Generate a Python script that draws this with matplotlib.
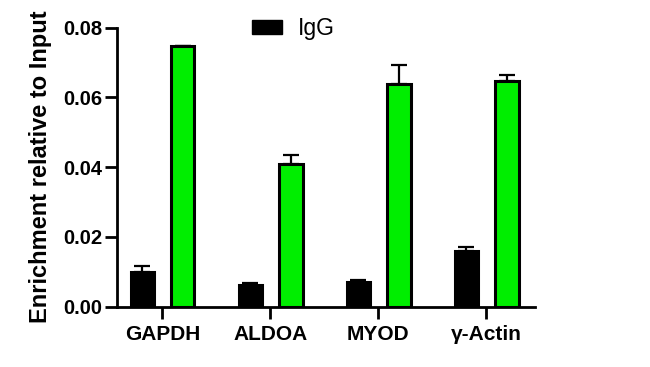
import matplotlib
matplotlib.use("Agg")
import matplotlib.pyplot as plt
import numpy as np
from matplotlib.patches import Patch

genes = ["GAPDH", "ALDOA", "MYOD", "\u03b3-Actin"]
igg = [0.0100, 0.0062, 0.0071, 0.0160]
igg_err = [0.0016, 0.0005, 0.0005, 0.0011]
target = [0.0746, 0.0409, 0.0637, 0.0646]
target_err = [0.0, 0.0026, 0.0056, 0.0019]
yticks = [0.00, 0.02, 0.04, 0.06, 0.08]

plt.rcParams["font.family"] = ["Liberation Sans", "DejaVu Sans"]

fig = plt.figure(figsize=(6.5, 3.67), dpi=100)
ax = fig.add_axes([117 / 650, 1 - 306.7 / 367, (535 - 117) / 650, (306.7 - 27.5) / 367])

x = np.arange(len(genes))
w = 0.215
ax.bar(x - 0.185, igg, w, color="black", edgecolor="black", linewidth=2.2, zorder=2)
ax.errorbar(x - 0.185, igg, yerr=[np.zeros(len(igg)), igg_err], fmt="none",
            ecolor="black", elinewidth=1.6, capsize=5.5, capthick=1.6, zorder=1)
ax.bar(x + 0.19, target, w, color="#00ee00", edgecolor="black", linewidth=2.2, zorder=2)
ax.errorbar(x + 0.19, target, yerr=[np.zeros(len(target)), target_err], fmt="none",
            ecolor="black", elinewidth=1.6, capsize=5.5, capthick=1.6, zorder=1)

ax.set_xlim(-0.42, 3.45)
ax.set_ylim(0, 0.08)
ax.set_yticks(yticks)
ax.set_yticklabels([f"{v:.2f}" for v in yticks], fontsize=14.5, fontweight="bold")
ax.set_xticks(x)
ax.set_xticklabels(genes, fontsize=15, fontweight="bold")
ax.tick_params(axis="both", length=8.5, width=2.0, direction="out")
ax.tick_params(axis="y", pad=2)
ax.tick_params(axis="x", pad=5)

for s in ["top", "right"]:
    ax.spines[s].set_visible(False)
for s in ["left", "bottom"]:
    ax.spines[s].set_linewidth(2.0)

ax.set_ylabel("Enrichment relative to Input", fontsize=17, fontweight="bold")
ax.yaxis.set_label_coords(-0.155, 0.5)

fig.legend(handles=[Patch(facecolor="black", edgecolor="black", label="IgG")],
           loc="upper left", bbox_to_anchor=(252 / 650, 1 - 17 / 367),
           frameon=False, fontsize=16.5, borderpad=0, borderaxespad=0,
           handlelength=1.3, handleheight=0.6, handletextpad=0.72)

fig.savefig("out.png", dpi=100)
